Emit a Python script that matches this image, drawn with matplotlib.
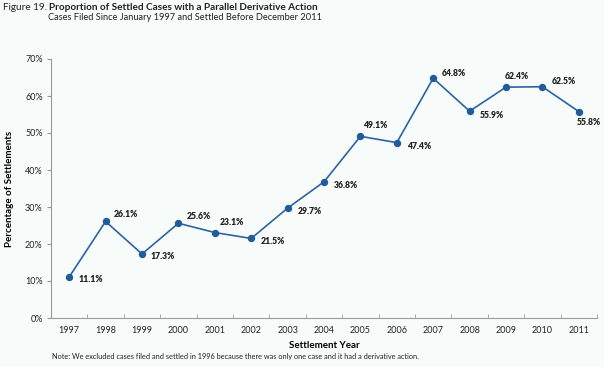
import numpy as np
import matplotlib
matplotlib.use("Agg")
import matplotlib.pyplot as plt

years = ["1997", "1998", "1999", "2000", "2001", "2002", "2003", "2004",
         "2005", "2006", "2007", "2008", "2009", "2010", "2011"]
pct = [11.1, 26.1, 17.3, 25.6, 23.1, 21.5, 29.7, 36.8,
       49.1, 47.4, 64.8, 55.9, 62.4, 62.5, 55.8]
labels = [f"{v:.1f}%" for v in pct]

# label offsets in pixels (dx, dy up)
offsets = [(9, -3), (8, 7), (9, -3), (8, 7), (5, 10), (10, -3), (10, -3), (10, -4),
           (3, 11), (10, -4), (9, 5), (10, -4), (-1, 11), (9, 5), (-2, -11)]

bg = "#f7fbfa"
blue = "#2c64a0"
font = "Lato"

fig = plt.figure(figsize=(6.04, 3.67), dpi=100, facecolor=bg)
ax = fig.add_axes([51 / 604, 1 - 318 / 367, 546 / 604, 259 / 367], facecolor=bg)

x = np.arange(len(years))
ax.plot(x, pct, color=blue, lw=1.2, marker="o", ms=4.3, mfc="#1f5c99", mec="#1f5c99", zorder=3)

for xi, yi, lab, (dx, dy) in zip(x, pct, labels, offsets):
    ax.annotate(lab, (xi, yi), xytext=(dx, dy), textcoords="offset pixels",
                ha="left", va="center", fontsize=6.2, fontweight="heavy",
                family=font, color="#222222")

ax.set_xlim(-0.5, len(years) - 0.5)
ax.set_ylim(0, 70)
ax.set_yticks(np.arange(0, 71, 10))
ax.set_yticklabels([f"{v}%" for v in range(0, 71, 10)], family=font, fontsize=6.5, color="#222222")
ax.set_xticks(x)
ax.set_xticklabels(years, family=font, fontsize=6.5, color="#222222")
ax.set_xticks(np.arange(-0.5, len(years), 1), minor=True)
ax.tick_params(axis="x", which="major", length=0, pad=6)
ax.tick_params(axis="x", which="minor", length=3, direction="in", color="#999999")
ax.tick_params(axis="y", length=3, color="#999999", pad=3)

for s in ["top", "right"]:
    ax.spines[s].set_visible(False)
for s in ["left", "bottom"]:
    ax.spines[s].set_color("#999999")
    ax.spines[s].set_linewidth(0.8)

ax.set_ylabel("Percentage of Settlements", family=font, fontsize=7, fontweight="bold", labelpad=8)
ax.set_xlabel("Settlement Year", family=font, fontsize=7, fontweight="bold", labelpad=4)

fig.text(3 / 604, 1 - 7 / 367, "Figure 19.", family=font, fontsize=7.2, va="center", color="#222222")
fig.text(49 / 604, 1 - 7 / 367, "Proportion of Settled Cases with a Parallel Derivative Action",
         family=font, fontsize=7.2, fontweight="bold", va="center", color="#222222")
fig.text(48 / 604, 1 - 18 / 367, "Cases Filed Since January 1997 and Settled Before December 2011",
         family=font, fontsize=6.7, va="center", color="#222222")
fig.text(52 / 604, 1 - 357 / 367,
         "Note: We excluded cases filed and settled in 1996 because there was only one case and it had a derivative action.",
         family=font, fontsize=5.3, va="center", color="#222222")

fig.savefig("out.png", dpi=100, facecolor=bg)
